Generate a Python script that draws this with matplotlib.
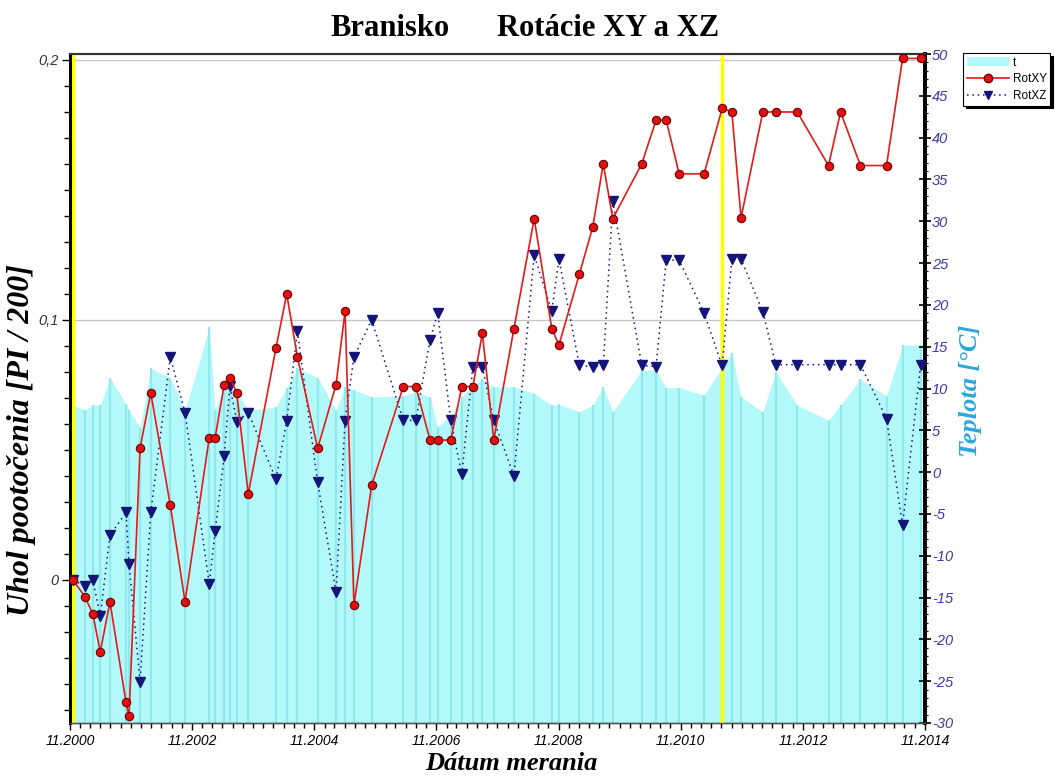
import numpy as np
import pandas as pd
import matplotlib
matplotlib.use("Agg")
import matplotlib.pyplot as plt
import matplotlib.dates as mdates
from matplotlib.patches import Patch
from matplotlib.lines import Line2D
from matplotlib.ticker import MultipleLocator, FuncFormatter
from matplotlib.transforms import blended_transform_factory

plt.rcParams["axes.unicode_minus"] = False

# ── data ──
DATES = [
    "2000-11-19", "2001-01-30", "2001-03-17", "2001-05-01", "2001-06-28",
    "2001-10-02", "2001-10-20", "2001-12-25", "2002-02-27", "2002-06-24",
    "2002-09-20", "2003-02-12", "2003-03-19", "2003-05-12", "2003-06-15",
    "2003-07-26", "2003-10-03", "2004-03-17", "2004-05-20", "2004-07-23",
    "2004-11-21", "2005-03-11", "2005-05-04", "2005-06-26", "2005-10-10",
    "2006-04-17", "2006-07-01", "2006-09-24", "2006-11-09", "2007-01-26",
    "2007-04-02", "2007-06-07", "2007-08-03", "2007-10-10", "2008-02-08",
    "2008-06-08", "2008-09-21", "2008-11-03", "2009-03-05", "2009-05-24",
    "2009-07-26", "2009-09-21", "2010-03-13", "2010-06-07", "2010-08-06",
    "2010-10-23", "2011-03-21", "2011-07-07", "2011-09-03", "2011-10-28",
    "2012-03-06", "2012-05-23", "2012-09-28", "2013-04-03", "2013-06-14",
    "2013-10-11", "2014-03-16", "2014-06-20", "2014-10-06",
]

ROT_XY = [
    0.0, -0.0065, -0.013, -0.0276, -0.0084, -0.0471, -0.0525, 0.0506, 0.072, 0.0287,
    -0.0084, 0.0548, 0.0548, 0.0751, 0.0778, 0.072, 0.033, 0.0893, 0.110, 0.0858,
    0.0506, 0.0751, 0.1034, -0.0096, 0.0364, 0.0744, 0.0744, 0.0538, 0.0538, 0.0538,
    0.0744, 0.0744, 0.0949, 0.0538, 0.0967, 0.139, 0.0967, 0.0904, 0.1176, 0.1357,
    0.160, 0.139, 0.160, 0.1769, 0.1769, 0.1562, 0.1562, 0.1814, 0.180, 0.1393,
    0.180, 0.180, 0.180, 0.1594, 0.180, 0.1594, 0.1594, 0.2006, 0.2006,
]

ROT_XZ = [
    0.0, -0.0023, 0.0, -0.0138, 0.0172, 0.026, 0.0061, -0.0391, 0.026, 0.0858,
    0.0644, -0.0015, 0.0188, 0.0475, 0.0747, 0.0609, 0.0644, 0.0387, 0.0613, 0.0958,
    0.0375, -0.0046, 0.0613, 0.0858, 0.100, 0.0614, 0.0614, 0.0923, 0.1026, 0.0614,
    0.0406, 0.0819, 0.0819, 0.0614, 0.040, 0.1249, 0.1034, 0.1234, 0.0825, 0.0821,
    0.0825, 0.1456, 0.0825, 0.0821, 0.123, 0.123, 0.1026, 0.0825, 0.1234, 0.1234,
    0.1032, 0.0828, 0.0828, 0.0828, 0.0828, 0.0828, 0.0621, 0.0211, 0.0828,
]

TEMPS = [
    8.0, 7.4, 8.0, 8.0, 11.3, 8.1, 7.4, 5.3, 12.4, 11.3,
    7.4, 17.3, 7.4, 10.1, 10.3, 9.6, 7.4, 7.8, 10.1, 12.4,
    11.3, 7.4, 10.2, 9.8, 9.0, 9.1, 9.6, 9.0, 5.4, 6.8,
    9.0, 10.4, 11.1, 10.2, 10.2, 9.4, 8.0, 8.1, 7.2, 8.0,
    10.2, 7.2, 12.2, 12.2, 10.1, 10.1, 9.2, 12.6, 14.2, 9.0,
    7.2, 12.0, 8.0, 6.2, 8.0, 11.1, 9.1, 15.2, 15.2,
]

YELLOW_DATES = ["2000-11-19", "2011-07-07"]
LEFT_MAJOR = [0.0, 0.1, 0.2]

TITLE_LEFT = "Branisko"
TITLE_RIGHT = "Rotácie XY a XZ"
XLABEL = "Dátum merania"
YLABEL = "Uhol pootočenia [PI / 200]"
Y2LABEL = "Teplota [°C]"

# ── colours ──
AREA_COLOR = "#b4f9f9"
AREA_LINE = "#8fe9ee"
XY_COLOR = "#e01b1b"
XZ_COLOR = "#14147a"
RIGHT_TICK_COLOR = "#3a3aa8"
RIGHT_LABEL_COLOR = "#2aa7dc"

SERIF = ["Liberation Serif", "DejaVu Serif"]
SANS = ["Liberation Sans", "DejaVu Sans"]

dates = pd.to_datetime(DATES)
yellow = pd.to_datetime(YELLOW_DATES)

W, H = 1055, 778
fig = plt.figure(figsize=(W / 100, H / 100), dpi=100)
rect = [70 / W, 1 - 723 / H, 855 / W, 669 / H]

ax = fig.add_axes(rect)
ax2 = ax.twinx()
ax.set_zorder(3)
ax2.set_zorder(2)
ax.patch.set_visible(False)

# ── temperature area (right axis) ──
ax2.set_ylim(-30, 50)
ax2.grid(axis="x", color="#d4d4d4", lw=0.9, zorder=0)
btrans = blended_transform_factory(ax2.transAxes, ax.transData)
for v in LEFT_MAJOR:
    ax2.plot([0, 1], [v, v], transform=btrans, color="#c4c4c4", lw=0.9, zorder=0)
ax2.fill_between(dates, -30, TEMPS, color=AREA_COLOR, lw=0, zorder=1)
ax2.vlines(dates, -30, TEMPS, color=AREA_LINE, lw=1.6, zorder=1.5)

# ── rotation series (left axis) ──
for d in yellow:
    ax.axvline(d, color="#ffff00", lw=2.5, zorder=1)
ax.plot(dates, ROT_XY, color=XY_COLOR, lw=1.2, marker="o", ms=6,
        mfc="#e31010", mec="#6a0000", mew=0.8, zorder=4, label="RotXY")
ax.plot(dates, ROT_XZ, color=XZ_COLOR, lw=1.1, ls=(0, (1, 2.5)), marker="v",
        ms=6.5, mfc=XZ_COLOR, mec=XZ_COLOR, zorder=3, label="RotXZ")

ax.set_xlim(pd.Timestamp("2000-11-01"), pd.Timestamp("2014-11-01"))
ax.set_ylim(-0.055, 0.2023)

# ── ticks ──
ax.xaxis.set_major_locator(mdates.YearLocator(base=2, month=11, day=1))
ax.xaxis.set_minor_locator(mdates.MonthLocator(bymonth=(1, 3, 5, 7, 9, 11)))
ax.xaxis.set_major_formatter(mdates.DateFormatter("%m.%Y"))
ax.set_yticks(LEFT_MAJOR)
ax.yaxis.set_minor_locator(MultipleLocator(0.01))
ax.yaxis.set_major_formatter(FuncFormatter(lambda v, p: f"{v:g}".replace(".", ",")))

ax2.yaxis.set_major_locator(MultipleLocator(5))
ax2.yaxis.set_minor_locator(MultipleLocator(1))

ax.tick_params(axis="x", which="major", direction="out", length=5, width=1,
               labelsize=10, pad=3)
ax.tick_params(axis="x", which="minor", direction="out", length=3.5, width=1)
ax.tick_params(axis="y", which="major", direction="out", length=6, width=1,
               labelsize=10.5, labelcolor="#333333", pad=2)
ax.tick_params(axis="y", which="minor", direction="out", length=4, width=1)
ax2.tick_params(axis="y", which="major", direction="inout", length=8, width=1.2,
                labelsize=10.5, labelcolor=RIGHT_TICK_COLOR, pad=1)
ax2.tick_params(axis="y", which="minor", direction="out", length=2.5, width=0.8)

for lab in ax.get_xticklabels() + ax.get_yticklabels() + ax2.get_yticklabels():
    lab.set_fontstyle("italic")
    lab.set_fontfamily(SANS)

# ── spines ──
for a in (ax, ax2):
    a.spines["left"].set_linewidth(2)
    a.spines["right"].set_linewidth(2.6)
    a.spines["top"].set_linewidth(1.5)
    a.spines["top"].set_color("#333333")
    a.spines["bottom"].set_linewidth(1)
    a.spines["bottom"].set_color("#555555")

# ── texts ──
fig.text(330 / W, 1 - 29 / H, TITLE_LEFT, fontsize=22, fontweight="bold",
         family=SERIF, ha="left", va="center")
fig.text(497 / W, 1 - 29 / H, TITLE_RIGHT, fontsize=22, fontweight="bold",
         family=SERIF, ha="left", va="center")
fig.text(511 / W, 1 - 763 / H, XLABEL, fontsize=19, fontweight="bold",
         fontstyle="italic", family=SERIF, ha="center", va="center")
fig.text(22 / W, 1 - 440 / H, YLABEL, fontsize=23, fontweight="bold",
         fontstyle="italic", family=SERIF, ha="center", va="center", rotation=90)
fig.text(971 / W, 1 - 391 / H, Y2LABEL, fontsize=19, fontweight="bold",
         fontstyle="italic", family=SERIF, ha="center", va="center", rotation=90,
         color=RIGHT_LABEL_COLOR)

# ── legend ──
handles = [
    Patch(facecolor=AREA_COLOR, edgecolor="none"),
    Line2D([], [], color=XY_COLOR, lw=1.2, marker="o", ms=6, mfc="#e31010",
           mec="#6a0000"),
    Line2D([], [], color=XZ_COLOR, lw=1.1, ls=(0, (1, 2.5)), marker="v", ms=6,
           mfc=XZ_COLOR, mec=XZ_COLOR),
]
leg = fig.legend(handles, ["t", "RotXY", "RotXZ"], loc="upper left",
                 bbox_to_anchor=(963 / W, 1 - 53 / H),
                 frameon=True, fancybox=False, edgecolor="black",
                 shadow={"color": "black", "alpha": 1.0},
                 handlelength=3.6, handletextpad=0.3, labelspacing=0.4,
                 borderpad=0.3, borderaxespad=0, prop={"family": SANS, "size": 8.5})
leg.get_frame().set_linewidth(0.8)

fig.savefig("out.png", dpi=100, facecolor="white")
